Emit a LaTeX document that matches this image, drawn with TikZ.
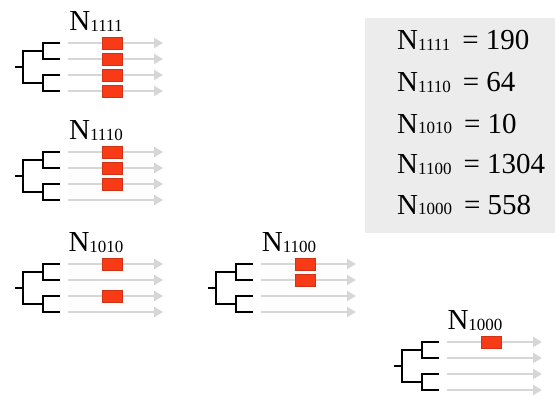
\documentclass[tikz,border=0pt]{standalone}
\usepackage{fontspec}
\setmainfont{Liberation Serif}
\usepackage{tikz}
\usetikzlibrary{arrows.meta}
\definecolor{hitc}{RGB}{248,58,22}
\definecolor{lineagec}{RGB}{214,214,214}
\definecolor{tablec}{RGB}{236,236,236}
\newcommand{\Nsub}[1]{N{\fontsize{17}{17}\selectfont\raisebox{-1pt}{#1}}}
\tikzset{
  branch/.style  = {draw=black, line width=2.1pt, line join=miter},
  lineage/.style = {draw=lineagec, line width=2pt, -{Triangle[length=9pt,width=10pt]}},
  hit/.style     = {fill=hitc, draw=hitc!85!black, line width=0.4pt},
  tag/.style     = {font=\fontsize{29}{29}\selectfont, inner sep=0pt},
  count/.style   = {font=\fontsize{29}{29}\selectfont, inner sep=0pt, anchor=base west},
}
\begin{document}
\begin{tikzpicture}[x=1pt, y=-1pt]
\useasboundingbox (0,0) rectangle (555,396);

% ---------- counts table ----------
\fill[tablec] (365,18) rectangle (555,233);
\node[count] (c1111) at (397,50)  {\Nsub{1111}\hspace{12pt}= 190};
\node[count] (c1110) at (397,92)  {\Nsub{1110}\hspace{12pt}= 64};
\node[count] (c1010) at (397,133) {\Nsub{1010}\hspace{12pt}= 10};
\node[count] (c1100) at (397,174) {\Nsub{1100}\hspace{12pt}= 1304};
\node[count] (c1000) at (397,214) {\Nsub{1000}\hspace{12pt}= 558};

% ---------- one tree per pattern ----------
\foreach \px/\py/\code/\hits in {15/43/1111/{0,1,2,3}, 15/152/1110/{0,1,2},
    15/264/1010/{0,2}, 208/264/1100/{0,1}, 394/342/1000/{0}} {
  \begin{scope}[shift={(\px,\py)}]
    \node[tag] (t\code) at (81,-21) {\Nsub{\code}};
    \draw[branch] (45,0) -- (28,0) -- (28,16) -- (45,16);
    \draw[branch] (45,32) -- (28,32) -- (28,48) -- (45,48);
    \draw[branch] (28,8) -- (8,8) -- (8,40) -- (28,40);
    \draw[branch] (0,24) -- (8,24);
    \foreach \k in {0,1,2,3}
      \draw[lineage] (53,\k*16) -- (148,\k*16);
    \foreach \k in \hits
      \filldraw[hit] (87,\k*16-6) rectangle (107,\k*16+6);
  \end{scope}
}

\end{tikzpicture}
\end{document}
